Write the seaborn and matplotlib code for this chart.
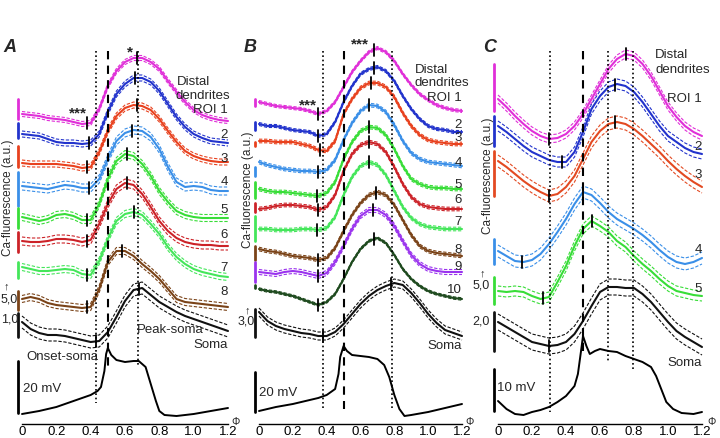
import matplotlib
matplotlib.use("Agg")
import numpy as np
import pandas as pd
import matplotlib.pyplot as plt
import seaborn as sns

sns.set_theme(style="white")
plt.rcParams["font.family"] = ["Liberation Sans", "DejaVu Sans"]

# Phase grid of the averaged Ca traces
phase = [0.0, 0.05, 0.1, 0.15, 0.2, 0.25, 0.3, 0.35, 0.4, 0.45, 0.5, 0.55, 0.6,
         0.65, 0.7, 0.75, 0.8, 0.85, 0.9, 0.95, 1.0, 1.05, 1.1, 1.15, 1.2]

# Panel A (stacked Ca-fluorescence, a.u.)
a_roi1 = [310, 309, 308, 306, 305, 304, 302, 300, 301, 315, 338, 353, 362, 366, 366, 362, 355, 343, 332, 322, 314, 309, 306, 304, 303]
a_roi2 = [290, 289, 288, 285, 282, 281, 281, 280, 281, 290, 312, 330, 340, 346, 346, 342, 333, 320, 307, 297, 290, 286, 283, 282, 281]
a_roi3 = [261, 260, 260, 260, 260, 259, 258, 256, 257, 272, 293, 308, 316, 319, 318, 314, 305, 293, 282, 273, 268, 265, 263, 262, 262]
a_roi4 = [238, 237, 236, 235, 237, 239, 238, 236, 236, 245, 265, 283, 291, 294, 293, 287, 275, 257, 242, 237, 238, 237, 234, 233, 233]
a_roi5 = [207, 205, 203, 205, 209, 210, 208, 204, 204, 220, 245, 263, 270, 268, 260, 248, 233, 222, 213, 209, 207, 206, 206, 206, 206]
a_roi6 = [183, 182, 182, 183, 185, 185, 184, 182, 184, 200, 220, 235, 241, 239, 230, 217, 203, 193, 186, 182, 180, 179, 179, 178, 178]
a_roi7 = [157, 155, 153, 153, 154, 155, 154, 150, 149, 163, 185, 203, 210, 212, 209, 200, 190, 177, 167, 160, 155, 152, 150, 148, 147]
a_roi8 = [125, 127, 125, 121, 119, 118, 117, 116, 117, 135, 162, 173, 173, 168, 160, 153, 145, 135, 125, 122, 121, 120, 119, 118, 117]
a_soma = [102, 95, 91, 89, 89, 88, 86, 84, 82, 83, 92, 107, 123, 134, 136, 129, 122, 117, 112, 108, 105, 102, 99, 96, 93]
a_onset = [0.38, 0.39, 0.38, 0.39, 0.38, 0.38, 0.38, 0.38, 0.43]
a_peak = [0.67, 0.66, 0.67, 0.64, 0.61, 0.61, 0.65, 0.58, 0.68]
va_phase = [0, 0.1, 0.2, 0.3, 0.35, 0.4, 0.44, 0.46, 0.48, 0.49, 0.5, 0.52, 0.55,
            0.6, 0.65, 0.68, 0.72, 0.75, 0.78, 0.8, 0.83, 0.9, 1.0, 1.1, 1.2]
va_mv = [10, 13, 17, 23, 26, 29, 33, 37, 53, 70, 76, 69, 64, 62, 63, 63, 57, 40, 23, 13, 9, 8, 10, 13, 16]

# Panel B
b_roi1 = [322, 320, 318, 317, 316, 315, 313, 310, 313, 322, 337, 352, 363, 372, 376, 372, 363, 350, 339, 330, 324, 319, 316, 314, 313]
b_roi2 = [300, 298, 298, 296, 294, 293, 292, 288, 290, 302, 322, 338, 350, 355, 357, 353, 343, 328, 315, 305, 298, 295, 294, 292, 292]
b_roi3 = [283, 283, 282, 282, 282, 280, 278, 274, 273, 283, 310, 325, 336, 341, 341, 337, 327, 311, 298, 289, 284, 282, 281, 280, 280]
b_roi4 = [262, 259, 257, 255, 254, 253, 253, 252, 254, 264, 284, 301, 313, 319, 318, 312, 299, 283, 271, 265, 262, 261, 260, 259, 258]
b_roi5 = [235, 233, 232, 232, 231, 230, 229, 228, 231, 242, 265, 282, 293, 297, 296, 289, 275, 258, 245, 240, 237, 236, 236, 235, 235]
b_roi6 = [215, 216, 218, 219, 219, 218, 217, 214, 217, 229, 253, 270, 279, 282, 280, 272, 257, 240, 227, 220, 217, 216, 215, 215, 215]
b_roi7 = [195, 195, 194, 194, 194, 195, 195, 194, 196, 207, 229, 247, 258, 262, 259, 249, 233, 217, 206, 200, 197, 196, 195, 195, 195]
b_roi8 = [175, 173, 172, 170, 168, 167, 166, 164, 166, 176, 193, 209, 221, 229, 232, 229, 219, 204, 189, 178, 173, 171, 170, 169, 168]
b_roi9 = [152, 151, 150, 152, 153, 152, 150, 148, 151, 162, 178, 195, 208, 214, 214, 209, 198, 183, 169, 160, 155, 153, 152, 152, 152]
b_roi10 = [135, 133, 132, 130, 128, 125, 122, 119, 122, 130, 145, 162, 175, 183, 186, 181, 169, 155, 145, 138, 133, 130, 128, 126, 125]
b_soma = [112, 103, 98, 95, 93, 91, 90, 88, 88, 92, 100, 110, 120, 128, 134, 138, 141, 139, 131, 121, 110, 101, 94, 91, 88]
b_onset = [0.35, 0.35, 0.36, 0.35, 0.34, 0.35, 0.34, 0.35, 0.35, 0.35, 0.38]
b_peak = [0.68, 0.68, 0.66, 0.65, 0.65, 0.65, 0.65, 0.69, 0.675, 0.68, 0.78]
vb_phase = [0, 0.1, 0.2, 0.3, 0.35, 0.4, 0.45, 0.47, 0.48, 0.5, 0.52, 0.55, 0.6,
            0.65, 0.7, 0.74, 0.77, 0.8, 0.83, 0.86, 0.9, 1.0, 1.1, 1.2]
vb_mv = [13, 17, 20, 24, 26, 29, 35, 50, 67, 78, 73, 69, 68, 67, 65, 59, 47, 29, 15, 8, 9, 12, 16, 20]

# Panel C
c_roi1 = [325, 317, 308, 300, 293, 288, 285, 286, 290, 298, 310, 325, 340, 355, 365, 370, 368, 360, 348, 333, 318, 307, 298, 292, 288]
c_roi2 = [298, 292, 285, 278, 272, 268, 264, 262, 262, 272, 292, 315, 328, 337, 340, 338, 332, 322, 310, 298, 288, 282, 276, 272, 270]
c_roi3 = [263, 257, 250, 243, 237, 232, 228, 230, 237, 248, 265, 282, 293, 300, 302, 300, 295, 288, 280, 272, 263, 255, 248, 242, 237]
c_roi4 = [173, 168, 163, 162, 164, 170, 180, 192, 205, 220, 232, 229, 221, 212, 205, 200, 195, 189, 182, 174, 167, 162, 160, 162, 166]
c_roi5 = [133, 132, 133, 132, 128, 125, 127, 142, 158, 178, 195, 203, 198, 192, 183, 177, 168, 160, 153, 145, 138, 133, 131, 129, 128]
c_soma = [102, 97, 92, 87, 82, 80, 78, 79, 82, 90, 103, 118, 132, 137, 137, 136, 136, 130, 122, 112, 102, 93, 87, 82, 77]
c_onset = [0.30, 0.375, 0.30, 0.14, 0.267, 0.30]
c_peak = [0.75, 0.69, 0.69, 0.50, 0.55, None]
vc_phase = [0, 0.05, 0.1, 0.15, 0.2, 0.25, 0.3, 0.35, 0.4, 0.45, 0.47, 0.49, 0.5, 0.52, 0.54,
            0.57, 0.6, 0.65, 0.7, 0.75, 0.8, 0.85, 0.9, 0.93, 0.96, 0.99, 1.03, 1.08, 1.15, 1.2]
vc_mv = [23, 15, 10, 9, 12, 14, 17, 22, 28, 38, 50, 75, 88, 78, 70, 73, 75, 73, 72, 68, 65, 62, 57, 48, 35, 22, 15, 11, 10, 12]

MAG, BLU, RED, LBL = "#e02fd8", "#2233cc", "#e8411e", "#3a8fe8"
GRN, DRD, LGR, BRN = "#38dd38", "#cc2228", "#44e65a", "#7a4318"
PUR, DGR, BLK = "#9a33ee", "#1e4a1e", "#111111"

a_colors = [MAG, BLU, RED, LBL, GRN, DRD, LGR, BRN, BLK]
b_colors = [MAG, BLU, RED, LBL, GRN, DRD, LGR, BRN, PUR, DGR, BLK]
c_colors = [MAG, BLU, "#e34a22", LBL, GRN, BLK]
a_sem = [2.5, 3, 3, 4, 3.5, 4, 3.5, 3.5, 6]
b_sem = [1.5, 1.5, 1.8, 1.8, 1.8, 1.8, 1.8, 1.8, 2.5, 1.2, 4]
c_sem = [4, 5, 6, 6, 5, 8]

# scale bars at the left of each trace (low, high)
a_bars = [(305, 325), (286, 301), (257, 278), (218, 252), (196, 216), (172, 192), (146, 162), (114, 133), (87, 111), (11, 63)]
b_bars = [(318, 325), (294, 302), (278, 282), (248, 257), (226, 242), (212, 221), (183, 208), (164, 178), (142, 162), (136, 139), (87, 115), (12, 52)]
c_bars = [(313, 360), (278, 308), (228, 273), (160, 185), (120, 147), (73, 112), (13, 55)]

fig = plt.figure(figsize=(7.2, 4.39), dpi=100)
W, H = 720, 439


def ftext(x, y, s, ha="left", size=9.5, **kw):
    fig.text(x / W, 1 - y / H, s, ha=ha, va="center", fontsize=size, **kw)


def panel(x0, x1, traces, colors, sems, onsets, peaks, vph, vmv, bars, vl):
    ax = fig.add_axes([x0 / W, (H - 425) / H, (x1 - x0) / W, 425 / H])
    for y, c, s, on, pk in zip(traces, colors, sems, onsets, peaks):
        y = np.array(y, dtype=float)
        df = pd.DataFrame({"phase": phase, "f": y})
        sns.lineplot(data=df, x="phase", y="f", ax=ax, color=c, lw=1.5, estimator=None)
        for sgn in (-1, 1):
            ax.plot(phase, y + sgn * s, color=c, lw=0.8, ls=(0, (3, 1.5)))
        for p in (on, pk):
            if p is not None:
                v = np.interp(p, phase, y)
                ax.plot([p, p], [v - 6, v + 6], color="black", lw=1.3)
    sns.lineplot(x=vph, y=vmv, ax=ax, color="black", lw=1.4, estimator=None)
    for (lo, hi), c in zip(bars, list(colors) + ["black"]):
        ax.plot([-0.025, -0.025], [lo, hi], color=c, lw=2)
    for p, ybot, st in vl:
        if st == ":":
            ax.plot([p, p], [373, ybot], color="black", lw=1.2, ls=(0, (1, 1.6)))
        else:
            ax.plot([p, p], [373, ybot], color="black", lw=1.5, ls=(0, (4, 3)))
    for ln in ax.lines:
        ln.set_clip_on(False)
    ax.set_xlim(0, 1.2)
    ax.set_ylim(0, 425)
    ax.set_xlabel("")
    ax.set_ylabel("")
    ax.set_yticks([])
    ax.set_xticks([0, 0.2, 0.4, 0.6, 0.8, 1.0, 1.2])
    ax.set_xticklabels(["0", "0.2", "0.4", "0.6", "0.8", "1.0", "1.2"], fontsize=9.5)
    ax.tick_params(axis="x", direction="in", length=3, width=0.8, pad=1, colors="black")
    for sp in ("left", "top", "right"):
        ax.spines[sp].set_visible(False)
    ax.spines["bottom"].set_color("black")
    ax.spines["bottom"].set_linewidth(1)
    ax.patch.set_alpha(0)
    return ax


panel(22, 228, [a_roi1, a_roi2, a_roi3, a_roi4, a_roi5, a_roi6, a_roi7, a_roi8, a_soma],
      a_colors, a_sem, a_onset, a_peak, va_phase, va_mv, a_bars,
      [(0.433, 21, ":"), (0.5, 53, "--"), (0.674, 57, ":")])
panel(259, 462, [b_roi1, b_roi2, b_roi3, b_roi4, b_roi5, b_roi6, b_roi7, b_roi8, b_roi9, b_roi10, b_soma],
      b_colors, b_sem, b_onset, b_peak, vb_phase, vb_mv, b_bars,
      [(0.38, 15, ":"), (0.503, 15, "--"), (0.785, 15, ":")])
panel(498, 702, [c_roi1, c_roi2, c_roi3, c_roi4, c_roi5, c_soma],
      c_colors, c_sem, c_onset, c_peak, vc_phase, vc_mv, c_bars,
      [(0.306, 12, ":"), (0.5, 68, "--"), (0.645, 62, ":"), (0.796, 55, ":")])

# panel letters
for x, s in [(10, "A"), (250, "B"), (490, "C")]:
    ftext(x, 47, s, ha="center", size=13, fontweight="bold", fontstyle="italic")

# y labels
for x, yc in [(8, 198), (248, 190), (488, 176)]:
    fig.text(x / W, 1 - yc / H, "Ca-fluorescence (a.u.)", rotation=90,
             ha="center", va="center", fontsize=8.5)

# phase symbols
for x in (235, 470, 712):
    ftext(x, 422, "Φ", ha="center", size=7.5)

# Panel A labels
ftext(177, 82, "Distal")
ftext(176, 96, "dendrites")
ftext(228, 110, "ROI 1", ha="right")
for s, y in [("2", 135), ("3", 159), ("4", 182), ("5", 210), ("6", 235), ("7", 268), ("8", 292)]:
    ftext(228, y, s, ha="right")
ftext(170, 330, "Peak-soma", ha="center")
ftext(228, 345, "Soma", ha="right")
ftext(62, 357, "Onset-soma", ha="center")
ftext(23, 389, "20 mV")
ftext(78, 113, "***", ha="center", size=11, fontweight="bold")
ftext(130, 52, "*", ha="center", size=11, fontweight="bold")
ftext(6, 286, "↑", ha="center", size=8, fontweight="bold")
ftext(1, 300, "5,0", ha="left", size=9)
ftext(1, 319, "1,0", ha="left", size=9)

# Panel B labels
ftext(415, 70, "Distal")
ftext(415, 83, "dendrites")
ftext(462, 98, "ROI 1", ha="right")
for s, y in [("2", 125), ("3", 138), ("4", 163), ("5", 185), ("6", 200), ("7", 222),
             ("8", 250), ("9", 267), ("10", 290)]:
    ftext(462, y, s, ha="right")
ftext(462, 346, "Soma", ha="right")
ftext(259, 393, "20 mV")
ftext(360, 44, "***", ha="center", size=11, fontweight="bold")
ftext(308, 105, "***", ha="center", size=11, fontweight="bold")
ftext(247, 310, "↑", ha="center", size=8, fontweight="bold")
ftext(246, 321, "3,0", ha="center", size=9)

# Panel C labels
ftext(655, 55, "Distal")
ftext(655, 70, "dendrites")
ftext(702, 99, "ROI 1", ha="right")
for s, y in [("2", 147), ("3", 175), ("4", 250), ("5", 289)]:
    ftext(702, y, s, ha="right")
ftext(702, 363, "Soma", ha="right")
ftext(497, 388, "10 mV")
ftext(482, 273, "↑", ha="center", size=8, fontweight="bold")
ftext(481, 286, "5,0", ha="center", size=9)
ftext(481, 321, "2,0", ha="center", size=9)

fig.savefig("out.png", dpi=100)
